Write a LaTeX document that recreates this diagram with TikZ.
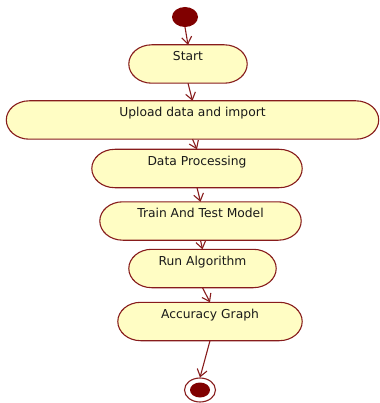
\documentclass[tikz,border=0pt]{standalone}
\usepackage{fontspec}
\setmainfont{DejaVu Sans}
\usetikzlibrary{calc,shapes.geometric,arrows.meta,backgrounds}
\definecolor{dred}{RGB}{128,0,0}
\definecolor{edge}{RGB}{135,28,28}
\definecolor{boxfill}{RGB}{255,253,196}
\tikzset{
  act/.style={inner xsep=0pt, inner ysep=0pt, text height=15.5pt, text depth=22.5pt,
    font=\fontsize{12.3}{14}\selectfont, text=black!90, anchor=center},
  capsule/.style={draw=edge, fill=boxfill, line width=1.1pt},
  flow/.style={draw=edge, line width=1.1pt, -{Straight Barb[length=7pt,width=10pt]}}
}
\newcommand\capsuleshape[1]{%
  \path[capsule] let \p1=(#1.south west), \p2=(#1.north east), \n1={0.5*abs(\y2-\y1)} in
    (\x1+23pt,\y1) -- (\x2-23pt,\y1)
    arc[start angle=-90,end angle=90,x radius=23pt,y radius=\n1]
    -- (\x1+23pt,\y2)
    arc[start angle=90,end angle=270,x radius=23pt,y radius=\n1] -- cycle;}
\begin{document}
\begin{tikzpicture}[x=1pt,y=1pt]
\useasboundingbox (0,0) rectangle (379,-403);
\node[act, minimum width=118pt] (start) at (188,-64) {Start};
\node[act, minimum width=372pt] (upload) at (192.5,-120) {Upload data and import};
\node[act, minimum width=210pt] (proc) at (197,-168.5) {Data Processing};
\node[act, minimum width=201pt] (train) at (200.5,-221) {Train And Test Model};
\node[act, minimum width=147pt] (run) at (202.5,-268.5) {Run Algorithm};
\node[act, minimum width=184pt] (acc) at (210,-321.5) {Accuracy Graph};
\begin{scope}[on background layer]
\capsuleshape{start}
\capsuleshape{upload}
\capsuleshape{proc}
\capsuleshape{train}
\capsuleshape{run}
\capsuleshape{acc}
\end{scope}
\node[ellipse, fill=dred, minimum width=26pt, minimum height=20pt, inner sep=0pt] (init) at (185,-17) {};
\node[ellipse, draw=edge, fill=white, line width=1.1pt, minimum width=31pt, minimum height=24pt, inner sep=0pt] (final) at (200,-390) {};
\fill[dred] (final.center) ellipse [x radius=10pt, y radius=7.5pt];
\draw[flow] (init.south) -- (start.north);
\draw[flow] (start.south) -- (upload.north);
\draw[flow] (upload.south) -- (proc.north);
\draw[flow] (proc.south) -- (train.north);
\draw[flow] (train.south) -- (run.north);
\draw[flow] (run.south) -- (acc.north);
\draw[flow] (acc.south) -- (final.north);
\end{tikzpicture}
\end{document}
